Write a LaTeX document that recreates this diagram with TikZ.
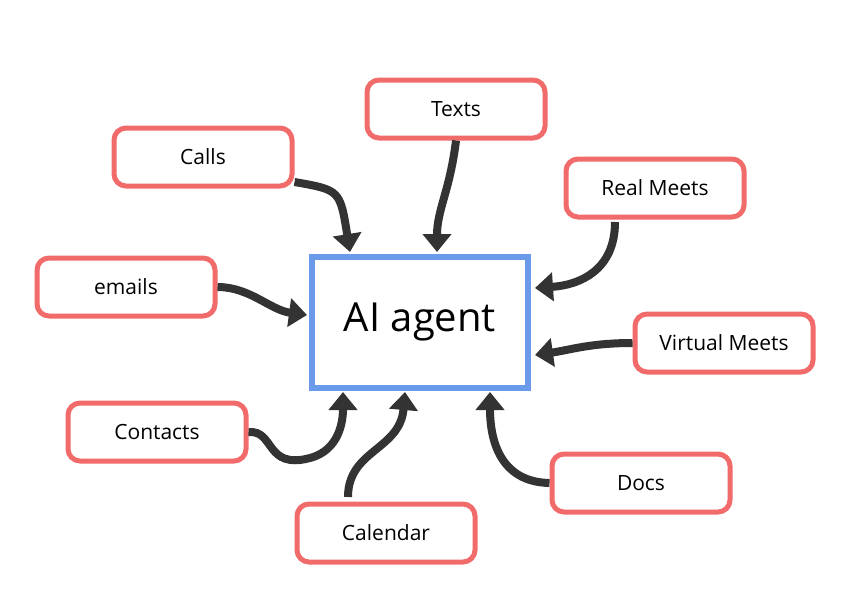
\documentclass[tikz,border=0pt]{standalone}
\usepackage{fontspec}
\setmainfont{Open Sans}
\usetikzlibrary{arrows.meta}
\definecolor{rd}{HTML}{F26B6B}
\definecolor{bl}{HTML}{6A9BEA}
\definecolor{ar}{HTML}{333333}
\begin{document}
\begin{tikzpicture}[x=1pt,y=-1pt,
 src/.style={draw=rd,line width=5pt,rounded corners=12pt,minimum width=178pt,minimum height=58pt,font=\fontsize{21pt}{25pt}\selectfont,fill=white},
 arr/.style={draw=ar,line width=8pt,-{Triangle[length=18pt,width=28pt]}}]
\useasboundingbox (0,0) rectangle (867,605);
\node[draw=bl,line width=6pt,minimum width=216pt,minimum height=131pt,font=\fontsize{40pt}{46pt}\selectfont] (ai) at (420,322) {AI agent};
\node[src] (texts) at (456,109) {Texts};
\node[src] (calls) at (203,157) {Calls};
\node[src] (real) at (655,188) {Real Meets};
\node[src] (emails) at (126,287) {emails};
\node[src] (virt) at (724,343) {Virtual Meets};
\node[src] (cont) at (157,432) {Contacts};
\node[src] (docs) at (641,483) {Docs};
\node[src] (cal) at (386,533) {Calendar};
\coordinate (a1) at (350,252);
\coordinate (a2) at (437,252);
\coordinate (a3) at (535,288);
\coordinate (a4) at (307,315);
\coordinate (a5) at (535,355);
\coordinate (a6) at (343,392);
\coordinate (a7) at (405,392);
\coordinate (a8) at (490,392);
\draw[arr] (calls.east|-0,182) .. controls (340,190) .. (a1);
\draw[arr] (texts.south) .. controls (450,190) and (437,210) .. (a2);
\draw[arr] (615,222) .. controls (615,270) and (580,285) .. (a3);
\draw[arr] (emails.east) .. controls (250,287) and (270,310) .. (a4);
\draw[arr] (virt.west) .. controls (590,343) and (570,350) .. (a5);
\draw[arr] (cont.east) .. controls (275,430) and (265,470) .. (310,458) .. controls (340,450) and (343,420) .. (a6);
\draw[arr] (348,497) .. controls (348,450) and (400,450) .. (a7);
\draw[arr] (docs.west) .. controls (500,482) and (490,440) .. (a8);
\end{tikzpicture}
\end{document}
